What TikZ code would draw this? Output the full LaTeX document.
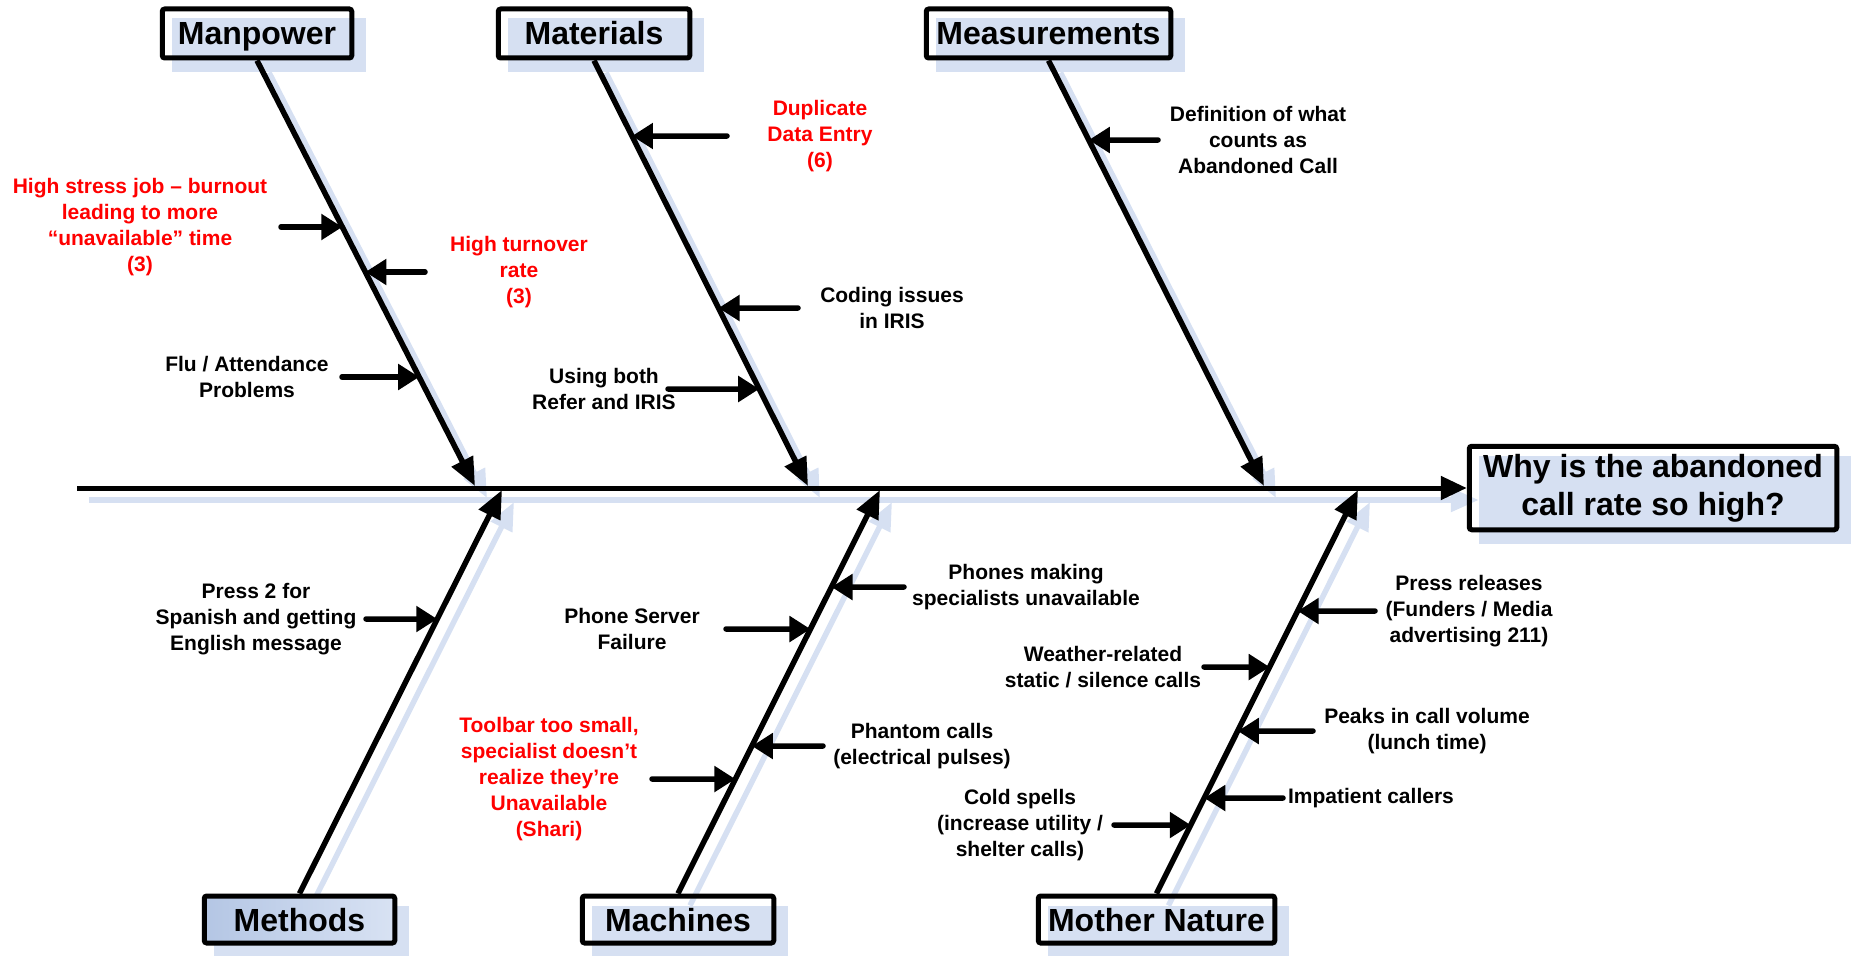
\documentclass[tikz,border=0pt]{standalone}
\usepackage{fontspec}
\setmainfont{Liberation Sans}
\usetikzlibrary{arrows.meta,backgrounds}
\definecolor{shadowblue}{RGB}{214,224,242}
\definecolor{fillL}{RGB}{180,198,228}
\definecolor{fillR}{RGB}{216,226,243}
\definecolor{causered}{RGB}{255,0,0}
\begin{document}
\begin{tikzpicture}[x=1pt,y=-1pt,
  catbox/.style={draw=black,line width=5pt,rounded corners=2.5pt,inner sep=0pt,
    font=\bfseries\fontsize{32}{38}\selectfont,align=center},
  topbox/.style={catbox,minimum height=49pt,text height=24pt,text depth=1pt},
  botbox/.style={catbox,minimum height=47pt,text height=24pt,text depth=1pt},
  lbl/.style={font=\bfseries\fontsize{21}{26}\selectfont,align=center,inner sep=0pt},
  redlbl/.style={lbl,text=causered},
  spine/.style={line width=5pt,-{Triangle[length=26pt,width=23pt]}},
  bone/.style={line width=5.5pt,-{Triangle[length=28pt,width=23pt]}},
  boneshadow/.style={draw=shadowblue,line width=5.5pt,-{Triangle[length=28pt,width=23pt]}},
  cause/.style={line width=5.5pt,line cap=round,-{Triangle[length=21pt,width=25pt]}},
  boxshadow/.style={fill=shadowblue},
]
\useasboundingbox (0,0) rectangle (1851,955);

% category boxes
\node[topbox,minimum width=189.5pt] (mp) at (257,33.5) {Manpower};
\node[topbox,minimum width=191.5pt] (ma) at (594,33.5) {Materials};
\node[topbox,minimum width=244.5pt] (me) at (1048.5,33.5) {Measurements};
\node[botbox,minimum width=190.5pt,left color=fillL,right color=fillR] (mo) at (299.5,919.5) {Methods};
\node[botbox,minimum width=191.5pt] (mc) at (678,919.5) {Machines};
\node[botbox,minimum width=236.5pt] (mn) at (1156.5,919.5) {Mother Nature};
\node[catbox,minimum width=367.5pt,minimum height=83.5pt] (eff) at (1653,488)
  {Why is the abandoned\\call rate so high?};

% spine and bone end points
\coordinate (spS) at (77,488);
\coordinate (mpA) at (mp.south);
\coordinate (maA) at (ma.south);
\coordinate (meA) at (me.south);
\coordinate (moA) at (mo.north);
\coordinate (mcA) at (mc.north);
\coordinate (mnA) at (mn.north);
\coordinate (mpE) at (475,486);
\coordinate (maE) at (808,486);
\coordinate (meE) at (1264,486);
\coordinate (moE) at (502,490);
\coordinate (mcE) at (880,490);
\coordinate (mnE) at (1358,490);

% shadows
\begin{scope}[on background layer]
  \foreach \b in {mp,ma,me,mo,mc,mn,eff}
    \fill[boxshadow] ([shift={(12,12)}]\b.north west) rectangle ([shift={(12,12)}]\b.south east);
  \draw[boneshadow] ([shift={(12,12)}]spS) -- ([shift={(12,12)}]eff.west);
  \foreach \b in {mp,ma,me,mo,mc,mn}
    \draw[boneshadow] ([shift={(12,12)}]\b A) -- ([shift={(12,12)}]\b E);
\end{scope}

% spine and bones
\draw[spine] (spS) -- (eff.west);
\foreach \b in {mp,ma,me,mo,mc,mn}
  \draw[bone] (\b A) -- (\b E);

% causes: Manpower
\node[redlbl] (c1) at (140,227) {High stress job – burnout\\leading to more\\“unavailable” time\\(3)};
\coordinate (c1t) at (281,227);
\coordinate (c1h) at (intersection of mpA--mpE and 0,227--1,227);
\node[redlbl] (c2) at (519,272) {High turnover\\rate\\(3)};
\coordinate (c2t) at (425,272);
\coordinate (c2h) at (intersection of mpA--mpE and 0,272--1,272);
\node[lbl] (c3) at (247,377) {Flu / Attendance\\Problems};
\coordinate (c3t) at (342,377);
\coordinate (c3h) at (intersection of mpA--mpE and 0,377--1,377);

% causes: Materials
\node[redlbl] (c4) at (820,136) {Duplicate\\Data Entry\\(6)};
\coordinate (c4t) at (727,136);
\coordinate (c4h) at (intersection of maA--maE and 0,136--1,136);
\node[lbl] (c5) at (892,308) {Coding issues\\in IRIS};
\coordinate (c5t) at (798,308);
\coordinate (c5h) at (intersection of maA--maE and 0,308--1,308);
\node[lbl] (c6) at (604,389) {Using both\\Refer and IRIS};
\coordinate (c6t) at (668,389);
\coordinate (c6h) at (intersection of maA--maE and 0,389--1,389);

% causes: Measurements
\node[lbl] (c7) at (1258,140) {Definition of what\\counts as\\Abandoned Call};
\coordinate (c7t) at (1158,140);
\coordinate (c7h) at (intersection of meA--meE and 0,140--1,140);

% causes: Methods
\node[lbl] (c8) at (256,619) {Press 2 for\\Spanish and getting\\English message};
\coordinate (c8t) at (366,619);
\coordinate (c8h) at (intersection of moA--moE and 0,619--1,619);

% causes: Machines
\node[lbl] (c9) at (1026,587) {Phones making\\specialists unavailable};
\coordinate (c9t) at (904,587);
\coordinate (c9h) at (intersection of mcA--mcE and 0,587--1,587);
\node[lbl] (c10) at (632,629) {Phone Server\\Failure};
\coordinate (c10t) at (726,629);
\coordinate (c10h) at (intersection of mcA--mcE and 0,629--1,629);
\node[redlbl] (c11) at (549,779) {Toolbar too small,\\specialist doesn’t\\realize they’re\\Unavailable\\(Shari)};
\coordinate (c11t) at (652,779);
\coordinate (c11h) at (intersection of mcA--mcE and 0,779--1,779);
\node[lbl] (c12) at (922,746) {Phantom calls\\(electrical pulses)};
\coordinate (c12t) at (823,746);
\coordinate (c12h) at (intersection of mcA--mcE and 0,746--1,746);

% causes: Mother Nature
\node[lbl] (c13) at (1469,611) {Press releases\\(Funders / Media\\advertising 211)};
\coordinate (c13t) at (1375,611);
\coordinate (c13h) at (intersection of mnA--mnE and 0,611--1,611);
\node[lbl] (c14) at (1103,667) {Weather-related\\static / silence calls};
\coordinate (c14t) at (1204,667);
\coordinate (c14h) at (intersection of mnA--mnE and 0,667--1,667);
\node[lbl] (c15) at (1427,731) {Peaks in call volume\\(lunch time)};
\coordinate (c15t) at (1313,731);
\coordinate (c15h) at (intersection of mnA--mnE and 0,731--1,731);
\node[lbl] (c16) at (1371,798) {Impatient callers};
\coordinate (c16t) at (1283,798);
\coordinate (c16h) at (intersection of mnA--mnE and 0,798--1,798);
\node[lbl] (c17) at (1020,825) {Cold spells\\(increase utility /\\shelter calls)};
\coordinate (c17t) at (1114,825);
\coordinate (c17h) at (intersection of mnA--mnE and 0,825--1,825);

\foreach \i in {1,...,17}
  \draw[cause] (c\i t) -- (c\i h);
\end{tikzpicture}
\end{document}
